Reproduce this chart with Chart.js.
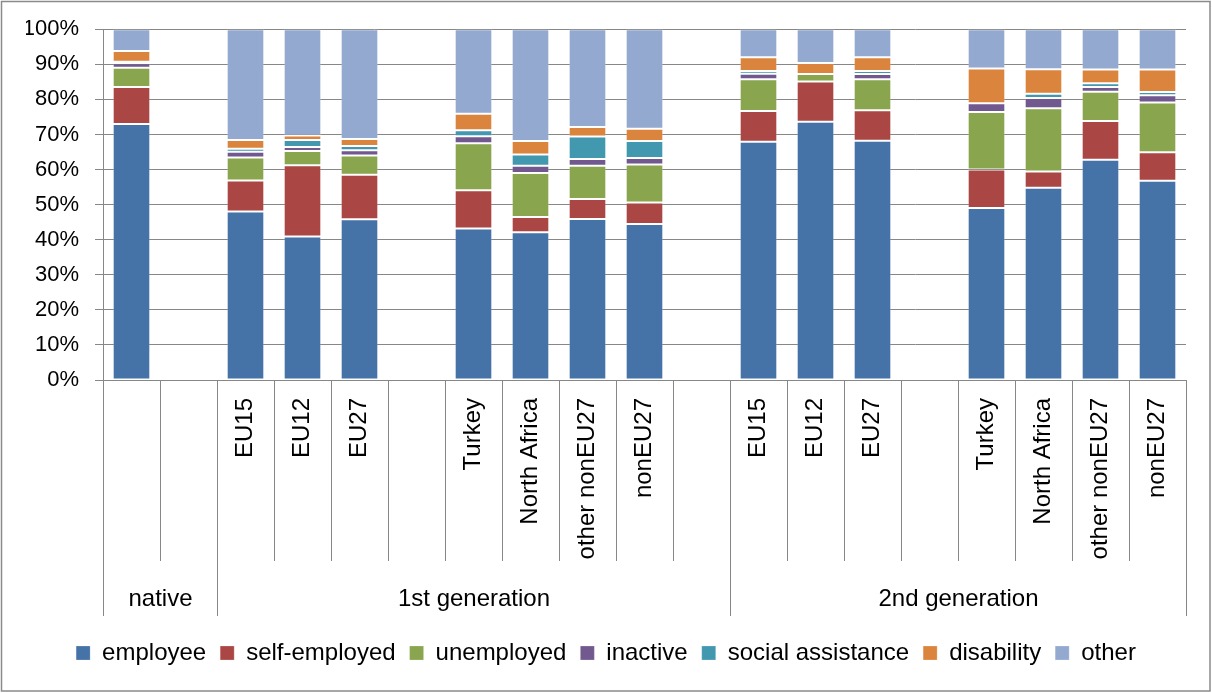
<!DOCTYPE html>
<html>
<head>
<meta charset="utf-8">
<script src="https://cdn.jsdelivr.net/npm/chart.js@4/dist/chart.umd.min.js"></script>
<style>
  html, body { margin: 0; padding: 0; background: #fff; }
  #wrap { position: absolute; left: 0; top: 0; width: 1212px; height: 693px; }
</style>
</head>
<body>
<div id="wrap"><canvas id="chart" width="1212" height="693"></canvas></div>
<script>
// Category slots along the x axis (empty strings are spacer slots)
const categories = ['', '', 'EU15', 'EU12', 'EU27', '', 'Turkey', 'North Africa', 'other nonEU27', 'nonEU27', '',
                    'EU15', 'EU12', 'EU27', '', 'Turkey', 'North Africa', 'other nonEU27', 'nonEU27'];

// Outer category groups: label and first/last slot index
const groupLabels = ['native', '1st generation', '2nd generation'];
const groupStart  = [0, 2, 11];
const groupEnd    = [1, 10, 18];

// Shares (%) per labour-market status
const employee     = [73.0, null, 48.0, 40.9, 45.8, null, 43.2, 42.1, 45.9, 44.5, null, 67.9, 73.6, 68.2, null, 49.0, 54.8, 62.8, 56.8];
const selfEmployed = [10.5, null,  8.9, 20.3, 12.7, null, 10.9,  4.4,  5.7,  6.1, null,  8.8, 11.5,  8.7, null, 11.0,  4.6, 11.0,  8.1];
const unemployed   = [ 5.5, null,  6.5,  4.1,  5.5, null, 13.4, 12.5,  9.5, 10.8, null,  9.0,  2.1,  8.8, null, 16.4, 18.1,  8.4, 14.2];
const inactive     = [ 1.3, null,  1.7,  1.1,  1.5, null,  2.0,  2.1,  1.9,  1.9, null,  1.6,  0.0,  1.5, null,  2.5,  2.9,  1.3,  2.1];
const socialAssist = [ 0.4, null,  0.8,  2.0,  1.2, null,  1.7,  3.2,  6.4,  4.8, null,  0.8,  0.0,  0.9, null,  0.0,  1.2,  1.1,  0.9];
const disability   = [ 3.1, null,  2.5,  1.3,  2.0, null,  4.7,  3.8,  2.7,  3.5, null,  3.9,  3.2,  3.9, null,  9.9,  7.0,  3.9,  6.4];
const other        = [ 6.2, null, 31.6, 30.3, 31.3, null, 24.1, 31.9, 27.9, 28.4, null,  8.0,  9.6,  8.0, null, 11.2, 11.4, 11.5, 11.5];

const seriesNames  = ['employee', 'self-employed', 'unemployed', 'inactive', 'social assistance', 'disability', 'other'];
const seriesValues = [employee, selfEmployed, unemployed, inactive, socialAssist, disability, other];
const seriesColors = ['#4572A7', '#AA4643', '#89A54E', '#71588F', '#4198AF', '#DB843D', '#93A9CF'];

const FONT = "'Liberation Sans', Arial, sans-serif";
const GRID = '#878787';

// Frame, category separators and group captions below the x axis
const axisDecor = {
  id: 'axisDecor',
  beforeDraw(chart) {
    const ctx = chart.ctx;
    ctx.save();
    ctx.fillStyle = '#fff';
    ctx.fillRect(0, 0, chart.width, chart.height);
    ctx.restore();
  },
  afterDraw(chart) {
    const ctx = chart.ctx;
    const x = chart.scales.x;
    const bottom = chart.chartArea.bottom;
    const step = x.getPixelForValue(1) - x.getPixelForValue(0);
    const edge = i => Math.round(x.getPixelForValue(i) - step / 2) + 0.5;
    const innerEnd = bottom + 181;
    const outerEnd = bottom + 236;
    ctx.save();
    ctx.strokeStyle = GRID;
    ctx.lineWidth = 1;
    ctx.beginPath();
    for (let i = 0; i <= categories.length; i++) {
      const isGroupEdge = groupStart.includes(i) || i === categories.length;
      const px = edge(i);
      ctx.moveTo(px, bottom);
      ctx.lineTo(px, isGroupEdge ? outerEnd : innerEnd);
    }
    ctx.stroke();

    ctx.fillStyle = '#000';
    ctx.font = '24px ' + FONT;
    ctx.textAlign = 'center';
    ctx.textBaseline = 'middle';
    groupLabels.forEach((g, k) => {
      const cx = (edge(groupStart[k]) + edge(groupEnd[k] + 1)) / 2;
      ctx.fillText(g, cx, bottom + 219);
    });

    // outer chart frame
    ctx.strokeStyle = '#8a8a8a';
    ctx.lineWidth = 1.5;
    ctx.strokeRect(1.5, 1.5, chart.width - 3.5, chart.height - 3.5);
    ctx.restore();
  }
};

new Chart(document.getElementById('chart'), {
  type: 'bar',
  data: {
    labels: categories,
    datasets: seriesNames.map((name, i) => ({
      label: name,
      data: seriesValues[i],
      backgroundColor: seriesColors[i],
      borderColor: 'rgba(255,255,255,0.22)',
      borderWidth: c => (c.raw ? 1 : 0),
      borderSkipped: false,
      barPercentage: 0.66,
      categoryPercentage: 1.0
    }))
  },
  options: {
    responsive: false,
    animation: false,
    devicePixelRatio: 1,
    layout: { padding: { left: 26, right: 26, top: 29, bottom: 18 } },
    plugins: {
      tooltip: { enabled: false },
      legend: {
        position: 'bottom',
        labels: {
          color: '#000',
          font: { family: FONT, size: 24 },
          boxWidth: 14,
          boxHeight: 14,
          padding: 14
        }
      }
    },
    scales: {
      x: {
        stacked: true,
        offset: true,
        grid: { display: true, drawOnChartArea: false, drawTicks: false },
        border: { display: true, color: GRID, width: 1 },
        ticks: {
          autoSkip: false,
          maxRotation: 90,
          minRotation: 90,
          padding: 18,
          color: '#000',
          font: { family: FONT, size: 24 }
        },
        afterFit(scale) { scale.height = 247; }
      },
      y: {
        stacked: true,
        min: 0,
        max: 100,
        ticks: {
          stepSize: 10,
          padding: 16,
          color: '#000',
          font: { family: FONT, size: 22 },
          callback: v => v + '%'
        },
        grid: { color: GRID, lineWidth: 1, tickLength: 8 },
        border: { display: true, color: GRID, width: 1 },
        afterFit(scale) { scale.width = 77; }
      }
    }
  },
  plugins: [axisDecor]
});
</script>
</body>
</html>
